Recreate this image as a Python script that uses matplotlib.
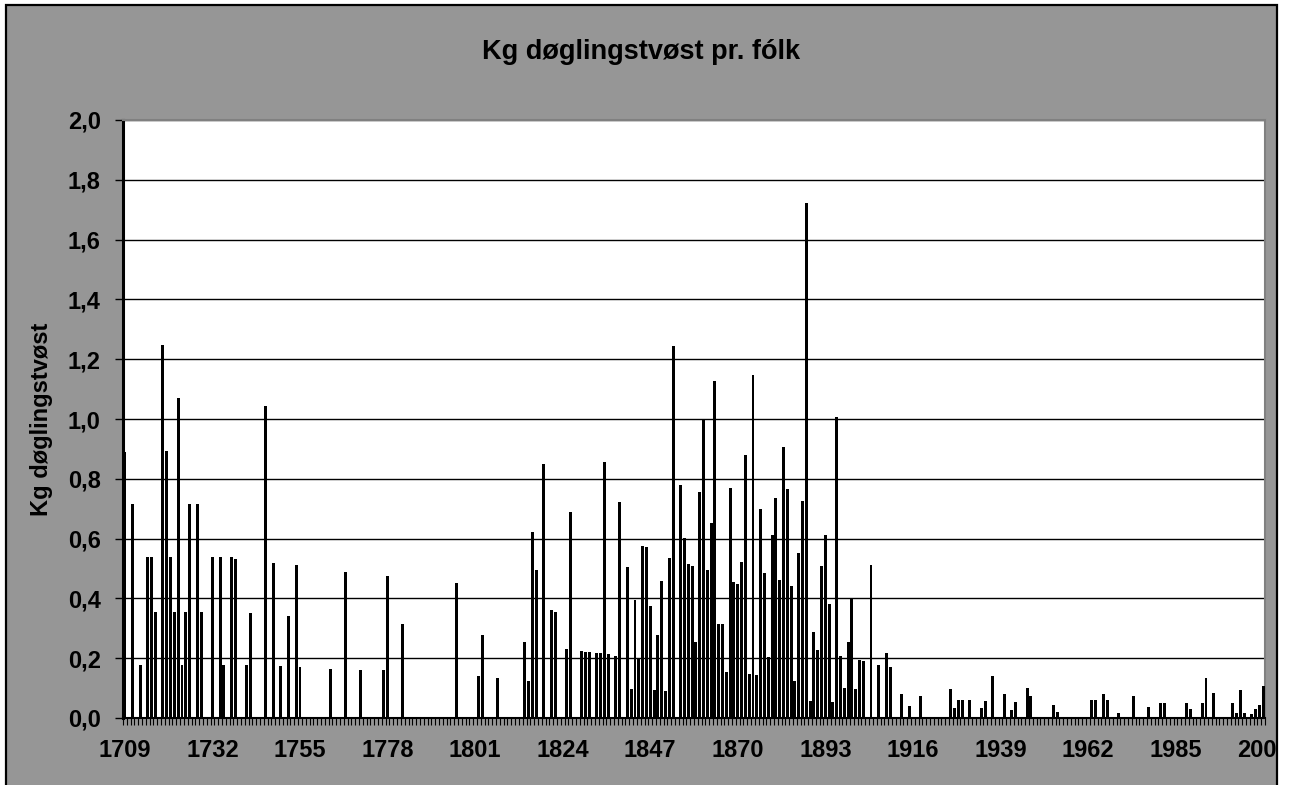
import numpy as np
import matplotlib
matplotlib.use("Agg")
import matplotlib.pyplot as plt
from matplotlib.patches import Rectangle

plt.rcParams['font.family'] = ['Liberation Sans', 'DejaVu Sans']
plt.rcParams['font.weight'] = 'bold'

# years with a non-zero catch (all other years 1709-2008 are 0)
bar_years = [1709, 1711, 1713, 1715, 1716, 1717, 1719, 1720, 1721, 1722,
             1723, 1724, 1725, 1726, 1728, 1729, 1732, 1734, 1735, 1737,
             1738, 1741, 1742, 1746, 1748, 1750, 1752, 1754, 1755, 1763,
             1767, 1771, 1777, 1778, 1782, 1796, 1802, 1803, 1807, 1814,
             1815, 1816, 1817, 1819, 1821, 1822, 1825, 1826, 1829, 1830,
             1831, 1833, 1834, 1835, 1836, 1838, 1839, 1841, 1842, 1843,
             1844, 1845, 1846, 1847, 1848, 1849, 1850, 1851, 1852, 1853,
             1855, 1856, 1857, 1858, 1859, 1860, 1861, 1862, 1863, 1864,
             1865, 1866, 1867, 1868, 1869, 1870, 1871, 1872, 1873, 1874,
             1875, 1876, 1877, 1878, 1879, 1880, 1881, 1882, 1883, 1884,
             1885, 1886, 1887, 1888, 1889, 1890, 1891, 1892, 1893, 1894,
             1895, 1896, 1897, 1898, 1899, 1900, 1901, 1902, 1903, 1905,
             1907, 1909, 1910, 1913, 1915, 1918, 1926, 1927, 1928, 1929,
             1931, 1934, 1935, 1937, 1940, 1942, 1943, 1946, 1947, 1953,
             1954, 1963, 1964, 1966, 1967, 1970, 1974, 1978, 1981, 1982,
             1988, 1989, 1992, 1993, 1995, 2000, 2001, 2002, 2003, 2005,
             2006, 2007, 2008]
bar_values = [0.89, 0.715, 0.178, 0.54, 0.54, 0.356, 1.247, 0.894, 0.54, 0.356,
              1.07, 0.178, 0.356, 0.715, 0.715, 0.356, 0.54, 0.54, 0.178, 0.54,
              0.533, 0.178, 0.352, 1.045, 0.52, 0.173, 0.342, 0.512, 0.169, 0.164,
              0.488, 0.161, 0.161, 0.475, 0.315, 0.453, 0.142, 0.279, 0.133, 0.254,
              0.125, 0.621, 0.494, 0.848, 0.36, 0.356, 0.231, 0.689, 0.225, 0.222,
              0.222, 0.217, 0.217, 0.855, 0.214, 0.208, 0.721, 0.504, 0.097, 0.395,
              0.197, 0.575, 0.571, 0.376, 0.094, 0.279, 0.459, 0.089, 0.535, 1.243,
              0.78, 0.602, 0.514, 0.51, 0.253, 0.755, 0.998, 0.494, 0.651, 1.127,
              0.315, 0.315, 0.155, 0.77, 0.455, 0.449, 0.522, 0.88, 0.147, 1.147,
              0.143, 0.699, 0.486, 0.205, 0.611, 0.735, 0.462, 0.908, 0.766, 0.44,
              0.124, 0.552, 0.726, 1.722, 0.057, 0.289, 0.227, 0.507, 0.611, 0.382,
              0.052, 1.007, 0.208, 0.102, 0.253, 0.40, 0.097, 0.194, 0.19, 0.511,
              0.178, 0.218, 0.169, 0.079, 0.039, 0.075, 0.097, 0.032, 0.061, 0.061,
              0.061, 0.032, 0.057, 0.142, 0.079, 0.028, 0.053, 0.102, 0.075, 0.044,
              0.021, 0.061, 0.061, 0.079, 0.061, 0.017, 0.075, 0.036, 0.049, 0.049,
              0.049, 0.03, 0.049, 0.133, 0.084, 0.049, 0.017, 0.093, 0.017, 0.012,
              0.03, 0.044, 0.106]

first_year, last_year = 1709, 2008
years = np.arange(first_year, last_year + 1)
kg = np.zeros(len(years))
kg[np.array(bar_years) - first_year] = bar_values

W, H = 1298, 785
fig = plt.figure(figsize=(W / 100, H / 100), dpi=100)
fig.patch.set_facecolor('white')

# grey chart area with black frame, cut off at the bottom
fig.add_artist(Rectangle((6 / W, -0.05), (1277 - 6) / W, 1 - 5 / H + 0.05,
                         transform=fig.transFigure, facecolor='#969696',
                         edgecolor='none', zorder=-10))

ax = fig.add_axes([123 / W, 1 - 718 / H, (1265 - 123) / W, (718 - 120) / H])
ax.set_facecolor('white')

ax.bar(years, kg, width=0.78, color='black', zorder=3)

ax.set_xlim(first_year - 0.5, last_year + 0.5)
ax.set_ylim(0, 2.0)

yt = np.round(np.arange(0, 2.01, 0.2), 1)
ax.set_yticks(yt)
ax.set_yticklabels([f"{v:.1f}".replace('.', ',') for v in yt])
ax.yaxis.grid(True, color='black', linewidth=1.0)
ax.set_axisbelow(True)

ax.set_xticks(np.arange(first_year, last_year + 1, 23))
ax.set_xticks(np.arange(first_year - 0.5, last_year + 1, 1), minor=True)
ax.tick_params(axis='x', which='major', length=0, pad=15, labelsize=17)
ax.tick_params(axis='x', which='minor', length=5, width=0.8, color='black')
ax.tick_params(axis='y', length=6, width=1, pad=10, labelsize=17)

for side in ['top', 'right']:
    ax.spines[side].set_color('#808080')
    ax.spines[side].set_linewidth(1.5)
ax.spines['left'].set_linewidth(2.2)
ax.spines['bottom'].set_linewidth(1.5)

fig.text(641 / W, 1 - 52 / H, 'Kg døglingstvøst pr. fólk', ha='center', va='center',
         fontsize=19.5, fontweight='bold')
fig.text(42 / W, 1 - 419 / H, 'Kg døglingstvøst', rotation=90, ha='center', va='center',
         fontsize=17, fontweight='bold')

# white margin right of the frame hides the overflow of the last label
fig.add_artist(Rectangle((1278 / W, 0), 1 - 1278 / W, 1, transform=fig.transFigure,
                         facecolor='white', edgecolor='none', zorder=10))
fig.add_artist(Rectangle((6 / W, -0.05), (1277 - 6) / W, 1 - 5 / H + 0.05,
                         transform=fig.transFigure, fill=False,
                         edgecolor='black', linewidth=1.6, zorder=11))

fig.savefig('out.png', dpi=100)
